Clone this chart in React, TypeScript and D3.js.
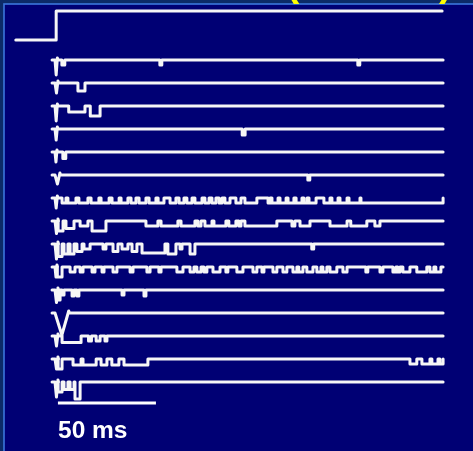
import React from 'react';
import * as d3 from 'd3';

const W = 473;
const H = 451;

// voltage protocol (ms, mV)
const protocolTimes = [-20, 0.6, 197.5];
const protocolVolts = [-80, 0, 0];

// channel openings per sweep: [start ms, end ms, amplitude (unitary levels)]
const sweep1 = [[3.5, 5, 1], [53.5, 54.5, 1], [154.5, 155.5, 1]];
const sweep2 = [[11.7, 15.3, 1.6]];
const sweep3 = [[7, 15.3, 1.2], [18, 23, 2]];
const sweep4 = [[95.5, 97, 1.2]];
const sweep5 = [[4, 5.5, 1.3]];
const sweep6 = [[129, 130, 1]];
const sweep7 = [
  [3.6, 5.6, 1], [6.6, 10.7, 1], [12.2, 16.8, 1], [18.4, 22.4, 1], [23.5, 27.6, 1],
  [29.1, 32.7, 1], [33.7, 37.2, 1], [38.8, 41.3, 1], [42.9, 46.4, 1], [48, 51.5, 1],
  [52.6, 55.6, 1], [58.7, 61.7, 1], [63.3, 65.8, 1], [67.3, 69.9, 1], [71.4, 75, 1],
  [76.5, 78.6, 1], [80.1, 82.1, 1], [83.7, 85.2, 1], [86.7, 89.3, 1], [92.3, 94.9, 1],
  [96.9, 103, 1], [108.7, 109.7, 1], [110.7, 113.8, 1], [114.8, 117.9, 1], [118.9, 121.9, 1],
  [123, 126, 1], [127, 128.6, 1], [129.6, 133.2, 1], [137.2, 140.3, 1], [141.3, 144.4, 1],
  [145.4, 149, 1], [150, 155.6, 1], [156.1, 198, 1],
];
const sweep8 = [
  [1.6, 4.1, 2], [5.6, 9.7, 1.5], [12.8, 16.8, 1], [18.9, 26, 2], [46.4, 52.5, 1],
  [54.1, 62.7, 1], [64.3, 71.4, 1], [72.9, 74.5, 1], [76.5, 80.1, 1], [81.1, 87.2, 1],
  [88.7, 92.3, 1], [93.8, 94.9, 1], [96.9, 113.2, 1], [120.9, 122.4, 1], [125, 130.1, 1],
  [140.3, 149, 1], [150.9, 159.1, 1], [163.2, 165.8, 1],
];
const sweep9 = [
  [1.6, 3.6, 2.5], [4.6, 6.6, 2], [7.7, 9.7, 2], [11.2, 13.8, 1.5], [14.8, 17.9, 1],
  [24.5, 26, 1], [29.6, 32.1, 1.5], [34.2, 37.2, 1], [39.3, 41.8, 1.5], [44.4, 56.1, 1.8],
  [57.6, 61.7, 2], [63.8, 64.8, 1], [68.9, 71.4, 2], [131, 132, 1],
];
const sweep10 = [
  [1.2, 3.6, 2], [7.7, 10.2, 1], [12.8, 14.3, 1], [18.9, 20.4, 1], [24, 25, 1],
  [29.6, 31.6, 1], [38.3, 39.8, 1], [46.9, 48.5, 1], [53, 54.1, 1], [62.2, 65.3, 1],
  [68.9, 70.9, 1], [72.4, 74.5, 1], [76, 77.5, 1], [80.6, 84.2, 1], [87.2, 88.2, 1],
  [92.8, 95.9, 1], [101, 103, 1], [105.6, 106.6, 1], [111.2, 113.2, 1], [116.3, 118.3, 1],
  [121.4, 123.4, 1], [124.4, 126.5, 1], [128.5, 131.6, 1], [133.6, 135.7, 1], [136.7, 138.7, 1],
  [140.3, 143.8, 1], [146.9, 149, 1], [158.6, 159.6, 1], [165.8, 167.3, 1], [172.4, 173.9, 1],
  [174.9, 176, 1], [177.5, 181.1, 1], [184.6, 189.7, 1], [191.3, 193.3, 1], [194.3, 196.9, 1],
];
const sweep11 = [[1.6, 2.6, 2], [3.6, 4.6, 1], [8.7, 9.7, 1.2], [11.2, 12.2, 1.2], [34.2, 35.2, 1], [45.4, 46.4, 1.2]];
const sweep12: number[][] = [];
const sweep13 = [[3.6, 13.3, 1.3], [17.1, 18.6, 1], [21, 23, 1], [25.5, 26.5, 1]];
const sweep14 = [
  [1.6, 3.6, 2], [9.2, 13.3, 1.2], [14.3, 21, 1.2], [23.5, 26.5, 1.2], [29, 32.6, 1.2],
  [35.2, 47.4, 1.2], [181.1, 184.6, 1], [187.2, 191.3, 1], [192.3, 195.4, 1], [196.4, 198, 1],
];
const sweep15 = [[1.6, 3.6, 2], [4.6, 6.6, 1.5], [7.7, 9.7, 1.5], [10.2, 12.8, 3.4]];

const sweeps = [
  sweep1, sweep2, sweep3, sweep4, sweep5, sweep6, sweep7, sweep8,
  sweep9, sweep10, sweep11, sweep12, sweep13, sweep14, sweep15,
];

// capacitive transient at step onset: depth (levels) and width (ms)
const transientDepth = [3, 2, 3, 2.2, 2, 1.8, 2, 2.5, 3, 2, 2.5, 4.4, 2, 2, 3];
const transientWidth = [1.2, 1.5, 1.2, 1.2, 1, 2.5, 1.2, 1.5, 1.5, 1, 1.5, 7, 1.5, 1.5, 1.5];

const scaleBarMs = [1.5, 51.5];
const scaleLabel = '50 ms';

function sweepPoints(events: number[][], depth: number, width: number): [number, number][] {
  const pts: [number, number][] = [[-1.5, 0], [0, 0], [width / 2, -depth], [width, 0.4], [width + 0.3, 0]];
  events.forEach(([s, e, a]) => {
    pts.push([s, 0], [s, -a], [e, -a], [e, 0]);
  });
  pts.push([198, 0]);
  return pts;
}

export default function App() {
  const x = d3.scaleLinear().domain([0, 200]).range([55, 447]);
  const baseline = d3.scalePoint<number>().domain(d3.range(sweeps.length)).range([60, 382]);
  const amp = d3.scaleLinear().domain([0, -1]).range([0, 5]);
  const vScale = d3.scaleLinear().domain([-80, 0]).range([40, 11]);

  const protocolLine = d3.line<number>()
    .x((_, i) => x(protocolTimes[i]))
    .y((_, i) => vScale(protocolVolts[i]))
    .curve(d3.curveStepAfter);

  return (
    <svg width={W} height={H} style={{ position: 'fixed', left: 0, top: 0 }}>
      <rect x={0} y={0} width={W} height={H} fill="#0c2b68" />
      <rect x={4} y={4} width={W} height={H} fill="#000074" stroke="#3b77dc" strokeWidth={1.6} />
      <text x={286} y={-4} fill="#ffff00" fontFamily="Liberation Sans, Arial, sans-serif" fontWeight="bold" fontSize={40}>(</text>
      <text x={439} y={-4} fill="#ffff00" fontFamily="Liberation Sans, Arial, sans-serif" fontWeight="bold" fontSize={40}>)</text>

      <g fill="none" stroke="#f6f6f6" strokeWidth={3} strokeLinejoin="round" strokeLinecap="round">
        <path d={protocolLine(protocolTimes) || ''} />
        {sweeps.map((ev, i) => {
          const b = baseline(i) || 0;
          const line = d3.line<[number, number]>()
            .x(d => x(d[0]))
            .y(d => b + amp(d[1]));
          return <path key={i} d={line(sweepPoints(ev, transientDepth[i], transientWidth[i])) || ''} />;
        })}
      </g>

      <line x1={x(scaleBarMs[0])} x2={x(scaleBarMs[1])} y1={403} y2={403} stroke="#ffffff" strokeWidth={3} />
      <text x={58} y={438} fill="#ffffff" fontFamily="Liberation Sans, Arial, sans-serif" fontWeight="bold" fontSize={24.5}>
        {scaleLabel}
      </text>
    </svg>
  );
}
